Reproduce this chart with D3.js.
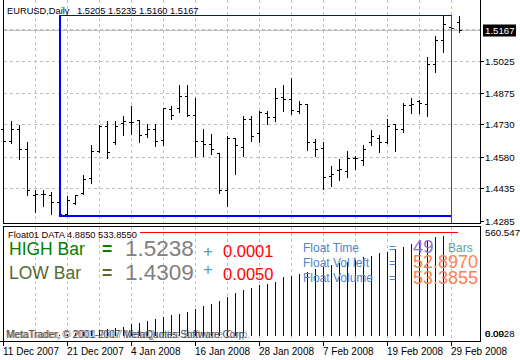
<!DOCTYPE html>
<html><head><meta charset="utf-8">
<script src="https://cdn.jsdelivr.net/npm/d3@7"></script>
<style>body{margin:0;background:#fff}svg{display:block}text{font-family:"Liberation Sans",Arial,sans-serif}</style>
</head><body>
<svg id="c" width="520" height="360"></svg>
<script>
// ---- data ----
const openP  = [1.4706,1.4652,1.4710,1.4617,1.4405,1.4408,1.4402,1.4370,1.4316,1.4367,1.4413,1.4483,1.4607,1.4721,1.4649,1.4737,1.4741,1.4748,1.4686,1.4706,1.4658,1.4802,1.4806,1.4860,1.4775,1.4652,1.4640,1.4595,1.4427,1.4668,1.4626,1.4755,1.4691,1.4783,1.4765,1.4857,1.4845,1.4791,1.4826,1.4647,1.4621,1.4490,1.4518,1.4516,1.4572,1.4567,1.4649,1.4668,1.4649,1.4729,1.4709,1.4817,1.4837,1.4826,1.5010,1.5118,1.5179,1.5205];
const highP  = [1.4749,1.4749,1.4732,1.4655,1.4432,1.4432,1.4421,1.4382,1.4405,1.4408,1.4498,1.4637,1.4732,1.4748,1.4748,1.4771,1.4821,1.4750,1.4737,1.4737,1.4811,1.4817,1.4914,1.4917,1.4857,1.4714,1.4691,1.4597,1.4680,1.4670,1.4772,1.4775,1.4795,1.4794,1.4903,1.4914,1.4950,1.4841,1.4830,1.4668,1.4652,1.4544,1.4575,1.4613,1.4590,1.4637,1.4706,1.4686,1.4757,1.4731,1.4834,1.4857,1.4845,1.5048,1.5141,1.5238,1.5220,1.5235];
const lowP   = [1.4633,1.4647,1.4575,1.4408,1.4328,1.4359,1.4321,1.4309,1.4312,1.4365,1.4411,1.4462,1.4605,1.4578,1.4644,1.4686,1.4691,1.4652,1.4675,1.4633,1.4640,1.4757,1.4791,1.4772,1.4586,1.4587,1.4595,1.4418,1.4359,1.4506,1.4586,1.4658,1.4655,1.4737,1.4749,1.4795,1.4783,1.4789,1.4617,1.4587,1.4436,1.4448,1.4478,1.4490,1.4529,1.4547,1.4640,1.4605,1.4647,1.4610,1.4698,1.4786,1.4788,1.4775,1.4976,1.5068,1.5150,1.5160];
const closeP = [1.4652,1.4710,1.4617,1.4428,1.4407,1.4408,1.4370,1.4316,1.4379,1.4402,1.4479,1.4607,1.4721,1.4601,1.4721,1.4743,1.4740,1.4680,1.4710,1.4655,1.4806,1.4775,1.4860,1.4775,1.4652,1.4640,1.4617,1.4424,1.4668,1.4632,1.4755,1.4678,1.4789,1.4765,1.4853,1.4845,1.4794,1.4826,1.4647,1.4618,1.4487,1.4498,1.4521,1.4572,1.4572,1.4617,1.4675,1.4649,1.4724,1.4709,1.4821,1.4826,1.4829,1.5007,1.5118,1.5192,1.5176,1.5167];
const floatStart = 7;
const floatVolume = [4.885,10,16,22,27,33,38,41,50,62,71,80,91,103,112,117,130,144,162,169,187,210,228,246,255,270,276,290,317,322,333,342,356,367,379,391,397,406,423,429,441,450,463,474,490,503,514,530,533.855];
const priceTicks = ["1.5025","1.4875","1.4730","1.4580","1.4435","1.4285"];
const currentPrice = "1.5167";
const dateLabels = ["11 Dec 2007","21 Dec 2007","4 Jan 2008","16 Jan 2008","28 Jan 2008","7 Feb 2008","19 Feb 2008","29 Feb 2008"];
const dateBars = [0,8,16,24,32,40,48,56];
const subMax = 560.5477;
const highBar = 1.5238, lowBar = 1.4309;

// ---- scales ----
const svg = d3.select("#c");
const n = openP.length;
const x = d3.scaleLinear().domain([0, n-1]).range([3.5, 3.5 + 8*(n-1)]);
const y = d3.scaleLinear().domain([1.4285, 1.5025]).range([221.5, 61.5]);
const ys = d3.scaleLinear().domain([0, subMax]).range([336, 231]);
const L = 3.5, R = 480.5, mainB = 223.5, subT = 226.5, subB = 341.5;

const g = svg.append("g").attr("shape-rendering","crispEdges");
// grid verticals
const gridIdx = d3.range(4, n, 4);
gridIdx.forEach(i => {
  [[0, mainB],[subT, subB]].forEach(([a,b]) =>
    g.append("line").attr("x1", x(i)).attr("x2", x(i)).attr("y1", a).attr("y2", b)
      .attr("stroke","#c0c0c0").attr("stroke-dasharray","3,3"));
});
// grid horizontals
const gridLevels = [1.5170].concat(priceTicks.slice(0,5).map(Number));
gridLevels.forEach(p => g.append("line").attr("x1", L).attr("x2", R).attr("y1", Math.round(y(p))-0.5).attr("y2", Math.round(y(p))-0.5)
  .attr("stroke","#c0c0c0").attr("stroke-dasharray","3,3"));
// current price line
g.append("line").attr("x1", L).attr("x2", R).attr("y1", Math.round(y(+currentPrice))-0.5).attr("y2", Math.round(y(+currentPrice))-0.5).attr("stroke","#c0c0c0");

// OHLC bars
const bars = g.append("g").attr("stroke","#000");
for (let i=0;i<n;i++){
  const xi = x(i);
  bars.append("line").attr("x1",xi).attr("x2",xi).attr("y1",Math.round(y(highP[i]))-0.5).attr("y2",Math.round(y(lowP[i]))+0.5);
  const yo = Math.round(y(openP[i]))-0.5, yc = Math.round(y(closeP[i]))-0.5;
  bars.append("line").attr("x1",xi-2.5).attr("x2",xi).attr("y1",yo).attr("y2",yo);
  bars.append("line").attr("x1",xi).attr("x2",xi+2.5).attr("y1",yc).attr("y2",yc);
}

// float rectangle (blue left/top/bottom, red right)
const fx0 = x(floatStart) - 0.5, fx1 = x(floatStart + floatVolume.length) - 0.5;
const fyT = Math.round(y(highBar)), fyB = Math.round(y(lowBar)) - 1;
g.append("rect").attr("x",fx0).attr("y",fyT).attr("width",fx1-fx0).attr("height",1).attr("fill","#0000ff");
g.append("rect").attr("x",fx0).attr("y",fyB).attr("width",fx1-fx0).attr("height",2).attr("fill","#0000ff");
g.append("rect").attr("x",fx0).attr("y",fyT).attr("width",2).attr("height",fyB-fyT+2).attr("fill","#0000ff");
g.append("rect").attr("x",fx1).attr("y",fyT).attr("width",1).attr("height",mainB-fyT).attr("fill","#ff0000");

// histogram
const hist = g.append("g").attr("stroke","#000080");
floatVolume.forEach((v,k) => {
  const xi = x(floatStart + k);
  hist.append("line").attr("x1",xi).attr("x2",xi).attr("y1",ys(0)).attr("y2",Math.round(ys(v)));
});
// red line in subwindow
g.append("line").attr("x1",140).attr("x2",458).attr("y1",232.5).attr("y2",232.5).attr("stroke","#ff0000");

// frames
g.append("rect").attr("x",L).attr("y",-1).attr("width",R-L).attr("height",mainB+1).attr("fill","none").attr("stroke","#000");
g.append("rect").attr("x",L).attr("y",subT).attr("width",R-L).attr("height",subB-subT).attr("fill","none").attr("stroke","#000");
g.append("line").attr("x1",0).attr("x2",R).attr("y1",subB).attr("y2",subB).attr("stroke","#000");

// right price axis
const axisG = svg.append("g");
priceTicks.forEach(t => {
  const yy = Math.round(y(+t))-0.5;
  axisG.append("line").attr("x1",R).attr("x2",R+3).attr("y1",yy).attr("y2",yy).attr("stroke","#000").attr("shape-rendering","crispEdges");
  axisG.append("text").attr("x",485).attr("y",yy).attr("dy","0.35em").attr("font-size","9.7px").attr("fill","#000").text(t);
});
const ycp = Math.round(y(+currentPrice))-0.5;
axisG.append("rect").attr("x",483).attr("y",ycp-6).attr("width",33).attr("height",12).attr("fill","#000");
axisG.append("text").attr("x",485).attr("y",ycp).attr("dy","0.35em").attr("font-size","9.7px").attr("fill","#fff").text(currentPrice);
axisG.append("text").attr("x",485).attr("y",233).attr("dy","0.35em").attr("font-size","9.7px").attr("fill","#000").text(subMax.toFixed(4));
axisG.append("text").attr("x",485).attr("y",334).attr("dy","0.35em").attr("font-size","9.7px").attr("fill","#000").text("0.00");
axisG.append("text").attr("x",485).attr("y",334).attr("dy","0.35em").attr("font-size","9.7px").attr("fill","#000").text("6.0928");

// bottom date axis
dateBars.forEach((b,k) => {
  const xx = x(b);
  axisG.append("line").attr("x1",xx).attr("x2",xx).attr("y1",subB).attr("y2",subB+4).attr("stroke","#000").attr("shape-rendering","crispEdges");
  axisG.append("text").attr("x",xx-0.5).attr("y",355).attr("font-size","10px").attr("fill","#000").text(dateLabels[k]);
});

// title
svg.append("text").attr("x",7).attr("y",14).attr("font-size","9.3px").text("EURUSD,Daily");
svg.append("text").attr("x",77).attr("y",14).attr("font-size","9.3px").text([openP[n-1],highP[n-1],lowP[n-1],closeP[n-1]].map(v=>v.toFixed(4)).join(" "));

// subwindow label
svg.append("text").attr("x",8).attr("y",238).attr("font-size","9.3px").attr("fill","#200000").text("Float01 DATA 4.8850 533.8550");

// big labels
const T = (tx, xx, yy, size, color, weight) => svg.append("text").attr("x",xx).attr("y",yy).attr("font-size",size+"px").attr("fill",color).attr("font-weight",weight||"normal").text(tx);
T("HIGH Bar", 9, 255, 17.5, "#008000");
T("=", 102, 255, 17.5, "#008000", "bold");
T(highBar.toFixed(4), 125, 256, 22.5, "#808080");
T("+", 203, 256.5, 17, "#5f9ea0");
T("0.0001", 223, 256.5, 16.5, "#ff0000");
T("LOW Bar", 9, 278.5, 17.5, "#556b2f");
T("=", 102, 278.5, 17.5, "#556b2f", "bold");
T(lowBar.toFixed(4), 125, 280, 22.5, "#808080");
T("+", 203, 274.5, 17, "#5f9ea0");
T("0.0050", 223, 280, 16.5, "#ff0000");

T("Float Time", 303, 252, 12, "#4f83cc");
T("Float Vol left", 303, 267, 12, "#4f83cc");
T("Float Volume", 303, 282, 12, "#4f83cc");
T("=", 389, 252, 12, "#4f83cc");
T("=", 389, 267, 12, "#4f83cc");
T("=", 389, 282, 12, "#4f83cc");
T(String(floatVolume.length), 413, 253, 18.5, "#9370db");
T("Bars", 448, 252, 12, "#5f9ea0");
T("52.8970", 413, 268, 18, "#ff7f50");
T("53.3855", 413, 283.5, 18, "#ff7f50");

// copyright
T("MetaTrader, © 2001-2007 MetaQuotes Software Corp.", 6, 338, 10, "#505050");
T("MetaTrader, © 2001-2007 MetaQuotes Software Corp.", 7, 338, 10.1, "#505050").attr("opacity",0.6);
</script>
</body></html>
